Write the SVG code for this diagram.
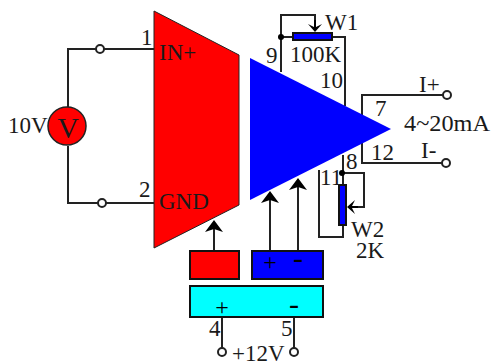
<svg xmlns="http://www.w3.org/2000/svg" width="491" height="362" viewBox="0 0 491 362">
<style>
text{font-family:"Liberation Serif","Times New Roman",serif;font-size:23px;fill:#1a1a1a}
.p{font-size:24px;fill:#000;text-anchor:middle}
.m{font-size:30px;fill:#000;text-anchor:middle}
.w{fill:none;stroke:#222;stroke-width:2}
.o{fill:#fff;stroke:#222;stroke-width:2}
.b{stroke:#111;stroke-width:2}
.h{fill:#000;stroke:none}
</style>
<rect width="491" height="362" fill="#fff"/>
<g id="connectors">
<path class="w" d="M96 49H68V107M68 146V203H98M104 49H154M106 203H154"/>
<path class="w" d="M281 72V15H315V28M281 37H345V106"/>
<path class="w" d="M362 115V95H443M362 143V163H442"/>
<path class="w" d="M343 155V185M343 173H364V207H352M319 170V237H343V225"/>
<path class="w" d="M214 251V228M270 251V200M298 251V186"/>
<path class="w" d="M222 317V348M294 317V348"/>
<path class="h" d="M315 32l-7-8 6 3V20h2v7l6-3z"/>
<path class="h" d="M347 207l8-7-3 6h6v2h-6l3 6z"/>
<path class="h" d="M214 220l9 12-9-3-9 3z"/>
<path class="h" d="M270 191l9 12-9-3-9 3z"/>
<path class="h" d="M298 178l9 12-9-3-9 3z"/>
<circle cx="281" cy="37" r="3" fill="#000"/>
<circle cx="342" cy="173" r="3" fill="#000"/>
</g>
<g id="node-input"><polygon points="154,11 239,55 239,205 154,248" fill="#f00" stroke="#222" stroke-width="1"/>
<text x="159" y="60">IN+</text><text x="159" y="209">GND</text></g>
<g id="node-amp"><polygon points="250,58 391,129 250,200" fill="#00f"/></g>
<g id="node-source"><circle cx="67" cy="126" r="19" fill="#f00" stroke="#222" stroke-width="1.5"/>
<text x="68" y="138" text-anchor="middle" style="font-size:30px">V</text>
<text x="8" y="133">10V</text></g>
<g id="node-w1"><rect x="293" y="33" width="39" height="7" fill="#00f" class="b"/>
<text x="325" y="30">W1</text><text x="290" y="62">100K</text></g>
<g id="node-w2"><rect x="339" y="185" width="7" height="40" fill="#00f" class="b"/>
<text x="351" y="237">W2</text><text x="356" y="258">2K</text></g>
<g id="node-red-box"><rect x="190" y="251" width="49" height="28" fill="#f00" class="b"/></g>
<g id="node-blue-box"><rect x="252" y="251" width="71" height="28" fill="#00f" class="b"/>
<text x="270" y="270" class="p">+</text><text x="298" y="268" class="m">-</text></g>
<g id="node-cyan-box"><rect x="190" y="286" width="133" height="31" fill="#0ff" class="b"/>
<text x="222" y="315" class="p">+</text><text x="294" y="314" class="m">-</text></g>
<g id="terminals">
<circle class="o" cx="100" cy="49" r="4"/><circle class="o" cx="102" cy="203" r="4"/>
<circle class="o" cx="447" cy="95" r="4"/><circle class="o" cx="446" cy="163" r="4"/>
<circle class="o" cx="222" cy="352" r="4"/><circle class="o" cx="294" cy="352" r="4"/>
</g>
<g id="labels">
<text x="141" y="45">1</text><text x="139" y="197">2</text>
<text x="266" y="63">9</text><text x="320" y="88">10</text>
<text x="375" y="116">7</text><text x="371" y="160">12</text>
<text x="346" y="169">8</text><text x="320" y="185">11</text>
<text x="209" y="336">4</text><text x="281" y="336">5</text>
<text x="419" y="92">I+</text><text x="421" y="158">I-</text>
<text x="404" y="131" textLength="86" lengthAdjust="spacingAndGlyphs">4~20mA</text>
<text x="232" y="361">+12V</text>
</g>
</svg>
